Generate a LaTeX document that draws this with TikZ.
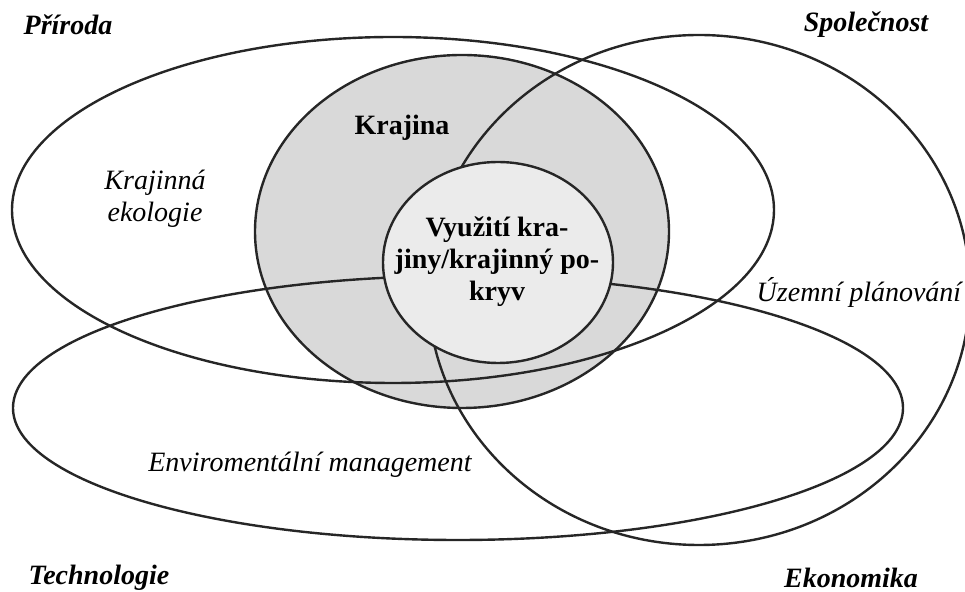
\documentclass[tikz,border=0pt]{standalone}
\usepackage{fontspec}
\setmainfont{Liberation Serif}
\usepackage{tikz}

\definecolor{krajgray}{gray}{0.85}
\definecolor{vyuzgray}{gray}{0.92}
\definecolor{linegray}{gray}{0.15}

\tikzset{
  oblast/.style={draw=linegray, line width=1.2pt},
  roh/.style={font=\fontsize{14}{16}\selectfont\bfseries\itshape},
  obor/.style={font=\fontsize{14}{16}\selectfont\itshape, align=center},
}

\begin{document}
\begin{tikzpicture}[x=0.5pt,y=-0.5pt]
        \useasboundingbox (0,0) rectangle (965,592);
        \clip (0,0) rectangle (965,592);

        \draw[oblast, fill=krajgray] (462,231.5) ellipse [x radius=207, y radius=176.5];
        \draw[oblast] (393,210) ellipse [x radius=381, y radius=173];
        \draw[oblast] (699,290) ellipse [x radius=271, y radius=255];
        \draw[oblast] (458,408) ellipse [x radius=445, y radius=132];
        \draw[oblast, fill=vyuzgray] (498,262.5) ellipse [x radius=115, y radius=100.5];

        \node[roh] (priroda) at (68,25) {Příroda};
        \node[roh] (spolecnost) at (866,25) {Společnost};
        \node[roh] (technologie) at (99,578) {Technologie};
        \node[roh] (ekonomika) at (851,578) {Ekonomika};

        \node[font=\fontsize{14}{16}\selectfont\bfseries] (krajina) at (402,128) {Krajina};
        \node[obor] (ekologie) at (155,199) {Krajinná\\ekologie};
        \node[obor] (planovani) at (859,292) {Územní plánování};
        \node[obor] (management) at (310,465) {Enviromentální management};

        \node[font=\fontsize{14}{16}\selectfont\bfseries, align=center] (vyuziti) at (497,262)
          {Využití kra-\\jiny/krajinný po-\\kryv};
\end{tikzpicture}
\end{document}
